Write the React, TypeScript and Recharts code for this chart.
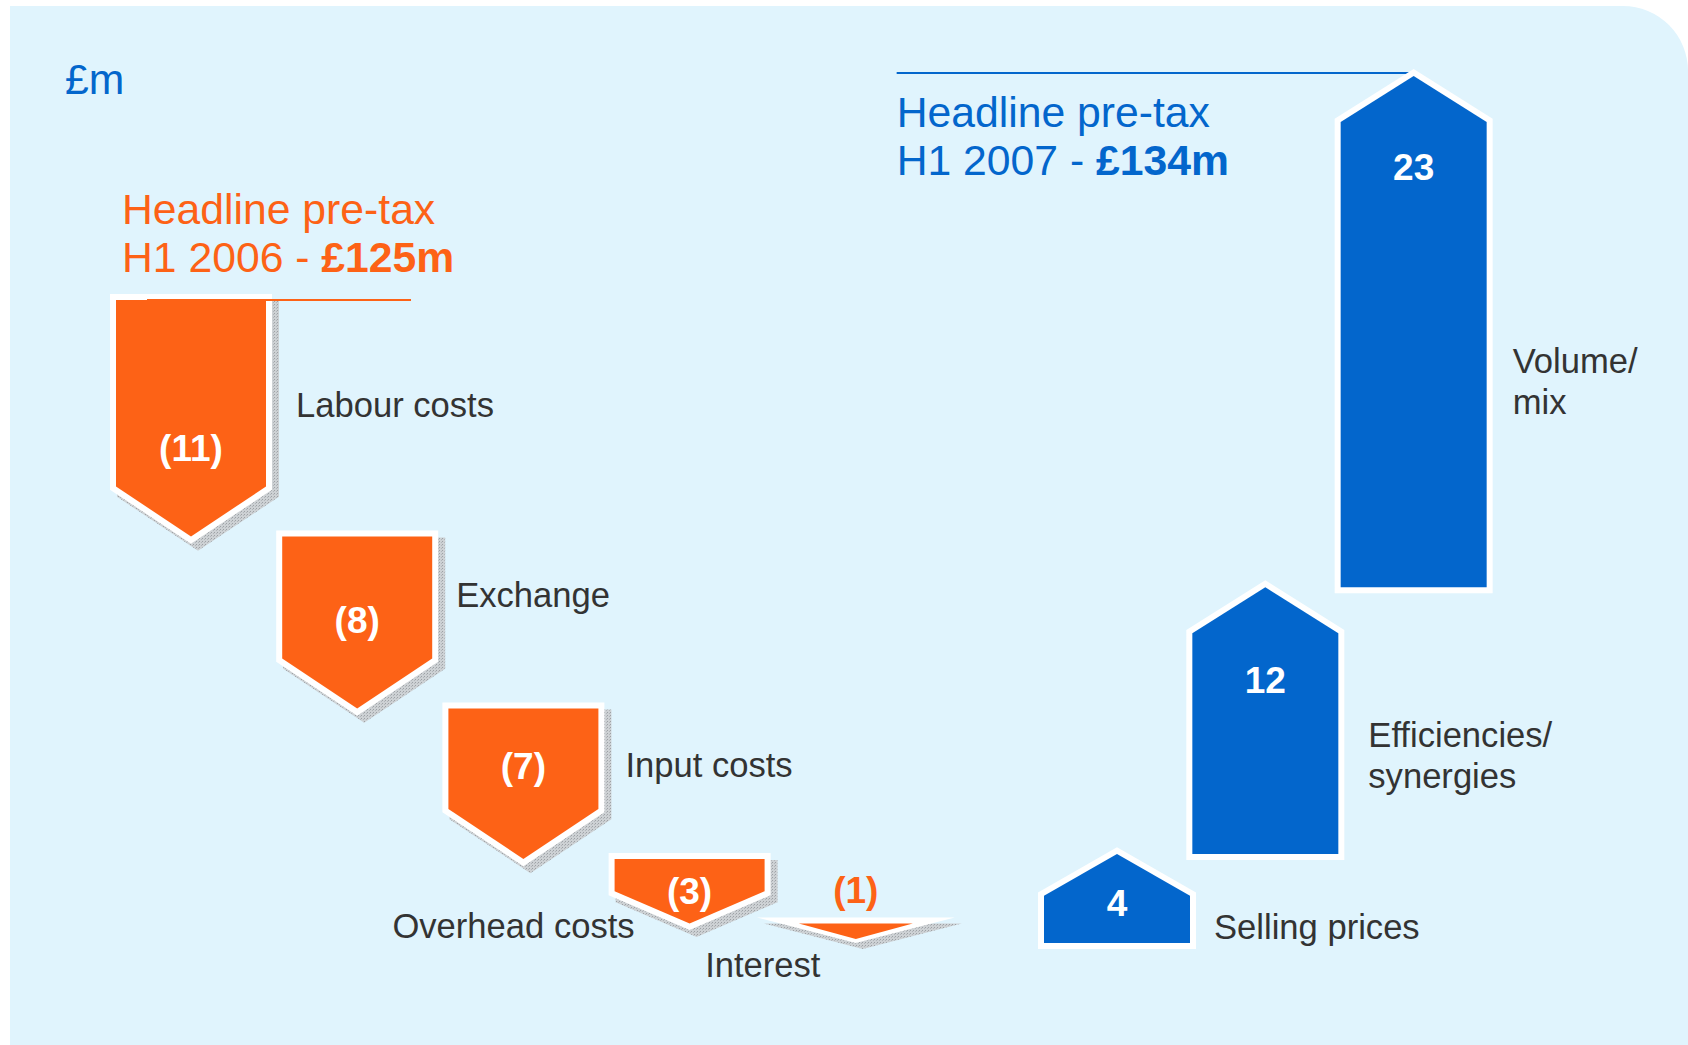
import React from 'react';
import { BarChart, Bar, XAxis, YAxis } from 'recharts';

// ---------- data ----------
const START_VALUE = 125;
const categories = [
  'Labour costs',
  'Exchange',
  'Input costs',
  'Overhead costs',
  'Interest',
  'Selling prices',
  'Efficiencies/\nsynergies',
  'Volume/\nmix',
];
const changes = [-11, -8, -7, -3, -1, 4, 12, 23];
const valueLabels = ['(11)', '(8)', '(7)', '(3)', '(1)', '4', '12', '23'];
const unitLabel = '£m';
const startTitle = ['Headline pre-tax', 'H1 2006 - ', '£125m'];
const endTitle = ['Headline pre-tax', 'H1 2007 - ', '£134m'];

let running = START_VALUE;
const rows = categories.map((name, i) => {
  const from = running;
  const to = running + changes[i];
  running = to;
  return {
    name,
    label: valueLabels[i],
    range: [Math.min(from, to), Math.max(from, to)],
    delta: changes[i],
    index: i,
  };
});
const END_VALUE = running;
const LOW_VALUE = Math.min(...rows.map((r) => r.range[0]));
const decRows = rows.filter((r) => r.delta < 0);
const incRows = rows.filter((r) => r.delta > 0);

// ---------- styles ----------
const FONT = '"Liberation Sans", Arial, Helvetica, sans-serif';
const ORANGE = '#FD6216';
const BLUE = '#0366CC';
const TEXT = '#333333';
const PANEL = '#E0F4FD';
const W = 1688;
const H = 1045;
const TITLE_SIZE = 42.7;
const NAME_SIZE = 34.6;
const VALUE_SIZE = 37;

type Pos = { anchor: 'start' | 'middle' | 'end'; ref: 'left' | 'right' | 'center'; dx: number; yref: 'top' | 'bottom'; dy: number };
const NAME_POS: Pos[] = [
  { anchor: 'start', ref: 'right', dx: 30, yref: 'top', dy: 117 },
  { anchor: 'start', ref: 'right', dx: 24, yref: 'top', dy: 70 },
  { anchor: 'start', ref: 'right', dx: 27, yref: 'top', dy: 68 },
  { anchor: 'end', ref: 'left', dx: 20, yref: 'bottom', dy: 14 },
  { anchor: 'middle', ref: 'center', dx: -93, yref: 'bottom', dy: 32 },
  { anchor: 'start', ref: 'right', dx: 24, yref: 'bottom', dy: -4 },
  { anchor: 'start', ref: 'right', dx: 30, yref: 'top', dy: 160 },
  { anchor: 'start', ref: 'right', dx: 26, yref: 'top', dy: 297 },
];
const VALUE_DY = [161, 96, 70, 45, -21, 62, 106, 104];

const pts = (p: number[][]) => p.map((q) => q.join(',')).join(' ');

function NameLabel({ idx, x, w, top, bot }: any) {
  const p = NAME_POS[idx];
  const bx = p.ref === 'left' ? x : p.ref === 'right' ? x + w : x + w / 2;
  const by = p.yref === 'top' ? top : bot;
  const lines = categories[idx].split('\n');
  return (
    <text x={bx + p.dx} y={by + p.dy} fontSize={NAME_SIZE} fill={TEXT} fontFamily={FONT} textAnchor={p.anchor}>
      {lines.map((l, k) => (
        <tspan key={k} x={bx + p.dx} dy={k === 0 ? 0 : 41}>
          {l}
        </tspan>
      ))}
    </text>
  );
}

function Stipple({ id }: { id: string }) {
  return (
    <defs>
      <pattern id={id} width={3} height={3} patternUnits="userSpaceOnUse">
        <rect width={3} height={3} fill="#CDD1D4" />
        <rect width={1} height={1} fill="#9DA1A5" />
        <rect x={2} y={1} width={1} height={1} fill="#B2B6BA" />
      </pattern>
    </defs>
  );
}

const DecShape = (props: any) => {
  const { x, y, width, height, index } = props;
  const row = decRows[index];
  const idx = row.index;
  const top = Math.min(y, y + height);
  const h = Math.abs(height);
  const w = width;
  const cx = x + w / 2;
  const bot = top + h;
  const pid = `stip${idx}`;
  let shape: React.ReactNode;
  if (h < 30) {
    const WO = w * 0.66;
    const WI = w * 0.38;
    const outer = [
      [cx - WO, top - 6],
      [cx + WO, top - 6],
      [cx, top + h - 2],
    ];
    const inner = [
      [cx - WI, top],
      [cx + WI, top],
      [cx, top + h * 0.72],
    ];
    shape = (
      <g>
        <polygon points={pts(outer)} fill={`url(#${pid})`} transform="translate(7,6)" />
        <polygon points={pts(outer)} fill="#ffffff" />
        <polygon points={pts(inner)} fill={ORANGE} />
      </g>
    );
  } else {
    const head = Math.min(50, h * 0.5);
    const poly = [
      [x, top],
      [x + w, top],
      [x + w, bot - head],
      [cx, bot],
      [x, bot - head],
    ];
    shape = (
      <g>
        <polygon
          points={pts(poly)}
          fill={`url(#${pid})`}
          stroke={`url(#${pid})`}
          strokeWidth={12}
          strokeLinejoin="miter"
          transform="translate(7,7)"
        />
        <polygon points={pts(poly)} fill="#ffffff" stroke="#ffffff" strokeWidth={12} strokeLinejoin="miter" />
        <polygon points={pts(poly)} fill={ORANGE} />
      </g>
    );
  }
  const small = h < 30;
  return (
    <g>
      <Stipple id={pid} />
      {shape}
      {idx === 0 && (
        <g>
          <line x1={x + 31} x2={x + w + 145} y1={top} y2={top} stroke={ORANGE} strokeWidth={2} />
          <text x={x + 6} y={top - 76} fontSize={TITLE_SIZE} fill={ORANGE} fontFamily={FONT}>
            {startTitle[0]}
          </text>
          <text x={x + 6} y={top - 28} fontSize={TITLE_SIZE} fill={ORANGE} fontFamily={FONT} style={{ whiteSpace: 'pre' }}>
            <tspan>{startTitle[1]}</tspan>
            <tspan fontWeight="bold">{startTitle[2]}</tspan>
          </text>
        </g>
      )}
      <text
        x={cx}
        y={top + VALUE_DY[idx]}
        fontSize={VALUE_SIZE}
        fontWeight="bold"
        fill={small ? ORANGE : '#ffffff'}
        textAnchor="middle"
        fontFamily={FONT}
      >
        {row.label}
      </text>
      <NameLabel idx={idx} x={x} w={w} top={top} bot={bot} />
    </g>
  );
};

const IncShape = (props: any) => {
  const { x, y, width, height, index } = props;
  const row = incRows[index];
  const idx = row.index;
  const top = Math.min(y, y + height);
  const h = Math.abs(height);
  const w = width;
  const cx = x + w / 2;
  const bot = top + h;
  const head = Math.min(46, h * 0.47);
  const poly = [
    [x, bot],
    [x, top + head],
    [cx, top],
    [x + w, top + head],
    [x + w, bot],
  ];
  const last = idx === categories.length - 1;
  return (
    <g>
      {last && <line x1={cx - 517} x2={cx} y1={top - 3} y2={top - 3} stroke={BLUE} strokeWidth={2} />}
      <polygon points={pts(poly)} fill="#ffffff" stroke="#ffffff" strokeWidth={12} strokeLinejoin="miter" />
      <polygon points={pts(poly)} fill={BLUE} />
      <text x={cx} y={top + VALUE_DY[idx]} fontSize={VALUE_SIZE} fontWeight="bold" fill="#ffffff" textAnchor="middle" fontFamily={FONT}>
        {row.label}
      </text>
      <NameLabel idx={idx} x={x} w={w} top={top} bot={bot} />
      {last && (
        <g>
          <text x={cx - 517} y={top + 51} fontSize={TITLE_SIZE} fill={BLUE} fontFamily={FONT}>
            {endTitle[0]}
          </text>
          <text x={cx - 517} y={top + 99} fontSize={TITLE_SIZE} fill={BLUE} fontFamily={FONT} style={{ whiteSpace: 'pre' }}>
            <tspan>{endTitle[1]}</tspan>
            <tspan fontWeight="bold">{endTitle[2]}</tspan>
          </text>
        </g>
      )}
    </g>
  );
};

export default function App() {
  return (
    <div style={{ position: 'relative', width: W, height: H, overflow: 'hidden', fontFamily: FONT }}>
      <style>{`html,body{margin:0;padding:0;overflow:hidden;background:#ffffff}`}</style>
      <div
        style={{
          position: 'absolute',
          left: 10,
          top: 6,
          width: W - 10,
          height: H - 6,
          background: PANEL,
          borderTopRightRadius: 65,
        }}
      />
      <svg style={{ position: 'absolute', left: 0, top: 0 }} width={W} height={H}>
        <text x={65} y={94} fontSize={TITLE_SIZE} fill={BLUE} fontFamily={FONT}>
          {unitLabel}
        </text>
      </svg>
      <div style={{ position: 'absolute', left: 0, top: 0 }}>
        <BarChart width={W} height={H} data={decRows} margin={{ top: 300, bottom: 100, left: 108, right: 749 }}>
          <XAxis dataKey="name" type="category" hide />
          <YAxis type="number" hide domain={[LOW_VALUE, START_VALUE]} />
          <Bar dataKey="range" barSize={150} isAnimationActive={false} shape={DecShape} />
        </BarChart>
      </div>
      <div style={{ position: 'absolute', left: 0, top: 0 }}>
        <BarChart width={W} height={H} data={incRows} margin={{ top: 76, bottom: 102, left: 1043, right: 200 }}>
          <XAxis dataKey="name" type="category" hide />
          <YAxis type="number" hide domain={[LOW_VALUE, END_VALUE]} />
          <Bar dataKey="range" barSize={146} isAnimationActive={false} shape={IncShape} />
        </BarChart>
      </div>
    </div>
  );
}
